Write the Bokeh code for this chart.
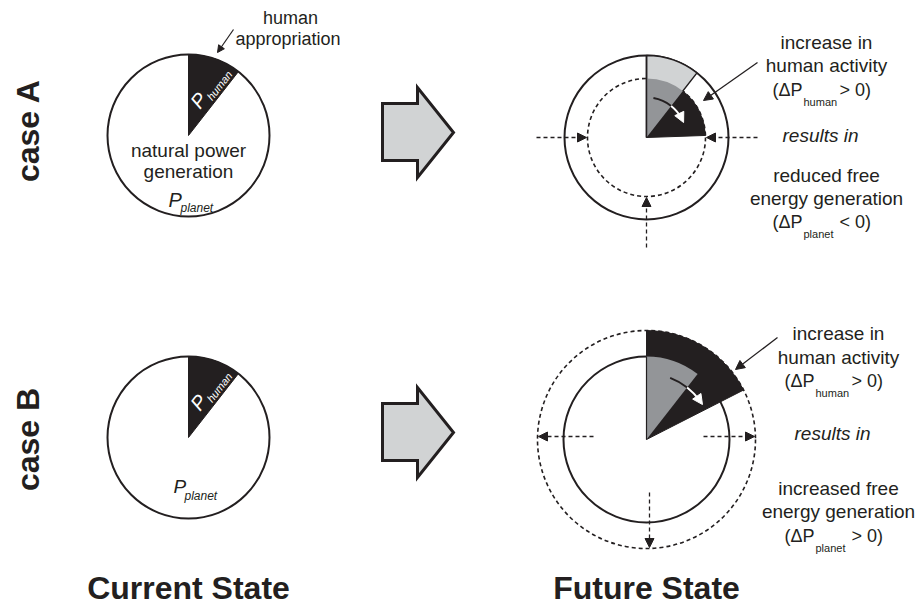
import math
from bokeh.plotting import figure
from bokeh.models import Range1d, Arrow, NormalHead
from bokeh.core.properties import value
from bokeh.embed import file_html
from bokeh.resources import INLINE

# ---------------- data ----------------
CASES = ["case A", "case B"]
STATES = ["Current State", "Future State"]
P_PLANET_NOW = [81, 81]          # radius of natural power generation now
P_PLANET_FUTURE = [59, 109]      # radius of natural power generation in future
P_PLANET_FUTURE_OUTER = [82, 83] # reference (old) circle drawn in future panel
HUMAN_NOW_DEG = [38, 38]         # angular width of human appropriation now (from 12 o'clock, clockwise)
HUMAN_FUTURE_DEG = [88, 63]      # angular width of human appropriation in future
FUTURE_TEXT = [
    ["increase in", "human activity", ("(ΔP", "human", "> 0)"), "results in",
     "reduced free", "energy generation", ("(ΔP", "planet", "< 0)")],
    ["increase in", "human activity", ("(ΔP", "human", "> 0)"), "results in",
     "increased free", "energy generation", ("(ΔP", "planet", "> 0)")],
]
NOW_TEXT_A = ["natural power", "generation"]
ANNOT = ["human", "appropriation"]

# ---------------- layout ----------------
FONT = value("Liberation Sans")
BLACK = "#231f20"
LGRAY = "#d1d3d4"
MGRAY = "#939598"
R = math.radians


def Y(y):
    return 607 - y


p = figure(width=920, height=607, x_range=Range1d(0, 920), y_range=Range1d(0, 607),
           output_backend="svg", toolbar_location=None, x_axis_location=None,
           y_axis_location=None, min_border=0, min_border_left=0, min_border_right=0,
           min_border_top=0, min_border_bottom=0)
p.grid.visible = False
p.outline_line_color = None
p.background_fill_color = "white"
p.border_fill_color = "white"


def txt(x, y, s, size=19, style="normal", align="center", baseline="alphabetic",
        angle=0, color=BLACK):
    yy = y
    if baseline == "alphabetic":
        # place by baseline: render with middle anchor at cap-centre
        yy = y - 0.35 * size
        baseline = "middle"
    p.text(x=[x], y=[Y(yy)], text=[s], text_font=FONT, text_font_size=f"{size}px",
           text_font_style=style, text_align=align, text_baseline=baseline,
           angle=R(angle), text_color=color)


def arrow(x0, y0, x1, y1, size=9, dash="solid", width=1.3, color=BLACK, head_color=BLACK):
    p.add_layout(Arrow(end=NormalHead(size=size, fill_color=head_color, line_color=head_color,
                                      line_width=1),
                       x_start=x0, y_start=Y(y0), x_end=x1, y_end=Y(y1),
                       line_width=width, line_dash=dash, line_color=color))


def wedge(cx, cy, r, a0, a1, **kw):
    p.wedge(x=[cx], y=[Y(cy)], radius=r, start_angle=R(a0), end_angle=R(a1), **kw)


def polar(cx, cy, r, deg):
    return cx + r * math.cos(R(deg)), cy - r * math.sin(R(deg))


ROW_Y = [135, 437]
LABEL_Y = [130, 439]
NOW_X = 188
FUT_X = 646
FUT_Y = [137, 439]
TEXT_CX = [826, 838]
TEXT_BASE = [[49, 72, 96, 142, 182, 205, 228], [340, 364, 387, 440, 495, 518, 542]]

for i in range(2):
    cy = ROW_Y[i]
    # row label
    txt(27, LABEL_Y[i], CASES[i], size=32, style="bold", baseline="middle", angle=90)

    # ---- current state pie ----
    r0 = P_PLANET_NOW[i]
    p.circle(x=[NOW_X], y=[Y(cy)], radius=r0, fill_color="white", line_color=BLACK, line_width=2)
    wedge(NOW_X, cy, r0, 90 - HUMAN_NOW_DEG[i], 90, fill_color=BLACK, line_color=BLACK, line_width=1)
    # P_human label inside wedge
    txt(NOW_X + 10, cy - 35, "P", size=20, style="italic", baseline="middle", angle=52, color="white")
    txt(NOW_X + 31, cy - 50, "human", size=11, style="italic", baseline="middle", angle=52, color="white")

    # ---- block arrow ----
    bx = [382, 417, 417, 453, 417, 417, 382]
    by = [103, 103, 87, 132, 177, 160, 160]
    p.patch(x=bx, y=[Y(v + 300 * i) for v in by], fill_color=LGRAY, line_color=BLACK,
            line_width=3, line_join="miter")

    # ---- future state ----
    fy = FUT_Y[i]
    rf = P_PLANET_FUTURE[i]
    ro = P_PLANET_FUTURE_OUTER[i]
    mid = 90 - HUMAN_NOW_DEG[i]
    if i == 0:
        p.circle(x=[FUT_X], y=[Y(fy)], radius=ro, fill_color="white", line_color=BLACK, line_width=2)
        p.circle(x=[FUT_X], y=[Y(fy)], radius=rf, fill_color=None, line_color=BLACK,
                 line_width=1.6, line_dash="4 3")
        wedge(FUT_X, fy, ro, mid, 90, fill_color=LGRAY, line_color=BLACK, line_width=1.5)
        wedge(FUT_X, fy, rf, 90 - HUMAN_FUTURE_DEG[i], mid, fill_color=BLACK, line_color=BLACK, line_width=1)
        wedge(FUT_X, fy, rf, mid, 90, fill_color=MGRAY, line_color=None)
        p.segment(x0=[FUT_X], y0=[Y(fy)], x1=[FUT_X], y1=[Y(fy) + ro], line_color=BLACK, line_width=1.5)
        # inward dashed arrows
        arrow(FUT_X - 110, fy, FUT_X - rf - 1, fy, dash="4 3")
        arrow(FUT_X + 111, fy, FUT_X + rf + 1, fy, dash="4 3")
        arrow(FUT_X, fy + 110, FUT_X, fy + rf + 1, dash="4 3")
        ra, a0, a1, a2 = 40, 80, 28, 22
        # pointer from text
        arrow(757, 62, 703, 100, size=9)
    else:
        p.circle(x=[FUT_X], y=[Y(fy)], radius=rf, fill_color="white", line_color=BLACK,
                 line_width=1.6, line_dash="4 3")
        p.circle(x=[FUT_X], y=[Y(fy)], radius=ro, fill_color=None, line_color=BLACK, line_width=2)
        wedge(FUT_X, fy, rf, 90 - HUMAN_FUTURE_DEG[i], 90, fill_color=BLACK, line_color=BLACK, line_width=1)
        wedge(FUT_X, fy, ro, mid, 90, fill_color=MGRAY, line_color=None)
        p.segment(x0=[FUT_X], y0=[Y(fy)], x1=[FUT_X], y1=[Y(fy) + ro], line_color=BLACK, line_width=1.2)
        # outward dashed arrows
        arrow(FUT_X - 53, fy - 3, FUT_X - rf + 1, fy - 3, dash="4 3")
        arrow(FUT_X + 57, fy - 3, FUT_X + rf - 1, fy - 3, dash="4 3")
        arrow(FUT_X + 3, fy + 53, FUT_X + 3, fy + rf - 1, dash="4 3")
        ra, a0, a1, a2 = 66, 69, 36, 32
        arrow(777, 337, 735, 369, size=9)

    # curved arrow: black over grey, white over black
    p.arc(x=[FUT_X], y=[Y(fy)], radius=ra, start_angle=R(mid), end_angle=R(a0),
          line_color=BLACK, line_width=2)
    p.arc(x=[FUT_X], y=[Y(fy)], radius=ra, start_angle=R(a1), end_angle=R(mid),
          line_color="white", line_width=2)
    sx, sy = polar(FUT_X, fy, ra, a1 + 1)
    ex, ey = polar(FUT_X, fy, ra, a2)
    arrow(sx, sy, ex, ey, size=10, color="white", head_color="white", width=2)

    # ---- future text ----
    cx = TEXT_CX[i]
    tl = FUTURE_TEXT[i]
    bl = TEXT_BASE[i]
    for k, s in enumerate(tl):
        if isinstance(s, tuple):
            a, sub, b = s
            txt(cx - 24, bl[k], a, size=18, align="right")
            txt(cx - 23, bl[k] + 9, sub, size=11, align="left")
            txt(cx + 13, bl[k], b, size=18, align="left")
        elif k == 3:
            txt(cx - 6, bl[k], s, style="italic")
        else:
            txt(cx, bl[k], s)

# current state A labels
txt(NOW_X, 157, NOW_TEXT_A[0])
txt(NOW_X, 178, NOW_TEXT_A[1])
txt(168, 206, "P", size=20, style="italic", align="left")
txt(180, 212, "planet", size=12, style="italic", align="left")
# current state B labels
txt(173, 493, "P", size=19, style="italic", align="left")
txt(184, 500, "planet", size=12, style="italic", align="left")
# human appropriation annotation
txt(290, 24, ANNOT[0], size=18)
txt(235, 45, ANNOT[1], size=18, align="left")
arrow(233, 29, 217, 52, size=7, width=1.2)

# column titles
txt(NOW_X, 599, STATES[0], size=32, style="bold")
txt(FUT_X, 599, STATES[1], size=32, style="bold")

open("out.html", "w").write(file_html(p, INLINE))
